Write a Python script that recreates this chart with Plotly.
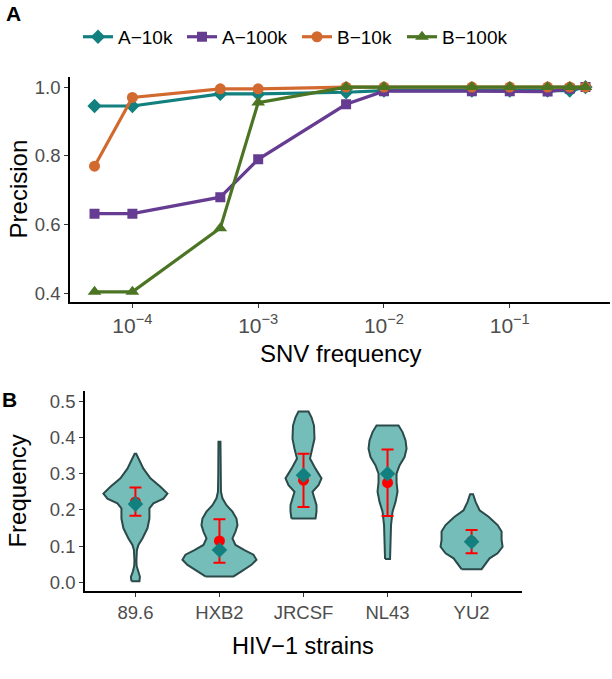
import plotly.graph_objects as go

# ---------------- Panel A data ----------------
snv_freq = [5e-5, 1e-4, 5e-4, 1e-3, 5e-3, 1e-2, 5e-2, 1e-1, 2e-1, 3e-1, 4e-1]
series_names = ["A\u221210k", "A\u2212100k", "B\u221210k", "B\u2212100k"]
prec_A10k = [0.945, 0.945, 0.980, 0.980, 0.985, 0.990, 0.990, 0.990, 0.990, 0.990, 1.000]
prec_A100k = [0.632, 0.632, 0.680, 0.790, 0.950, 0.988, 0.988, 0.988, 0.987, 0.995, 1.000]
prec_B10k = [0.770, 0.970, 0.995, 0.995, 1.000, 1.000, 1.000, 1.000, 1.000, 1.000, 1.000]
prec_B100k = [0.405, 0.405, 0.590, 0.955, 1.000, 1.000, 1.000, 1.000, 1.000, 1.000, 1.000]
x_tick_vals = [1e-4, 1e-3, 1e-2, 1e-1]
x_tick_text = ["10<sup>\u22124</sup>", "10<sup>\u22123</sup>", "10<sup>\u22122</sup>", "10<sup>\u22121</sup>"]
y_tick_vals_A = [0.4, 0.6, 0.8, 1.0]

# ---------------- Panel B data ----------------
strains = ["89.6", "HXB2", "JRCSF", "NL43", "YU2"]
# density profiles: (frequency level, relative density)
dens_levels = {
    "89.6": [0.003, 0.015, 0.030, 0.045, 0.060, 0.080, 0.089, 0.103, 0.121, 0.149, 0.176, 0.204,
             0.218, 0.231, 0.245, 0.264, 0.287, 0.314, 0.332, 0.355],
    "HXB2": [0.016, 0.030, 0.048, 0.062, 0.076, 0.089, 0.103, 0.121, 0.140, 0.158, 0.176, 0.195,
             0.213, 0.232, 0.250, 0.296, 0.342, 0.388],
    "JRCSF": [0.176, 0.195, 0.213, 0.231, 0.250, 0.268, 0.287, 0.314, 0.342, 0.369, 0.397, 0.433,
              0.456, 0.472],
    "NL43": [0.064, 0.112, 0.158, 0.195, 0.222, 0.250, 0.277, 0.300, 0.323, 0.346, 0.369, 0.392,
             0.415, 0.433],
    "YU2": [0.036, 0.052, 0.066, 0.080, 0.098, 0.117, 0.140, 0.158, 0.181, 0.199, 0.222, 0.243],
}
dens_values = {
    "89.6": [4.0, 4.5, 2.5, 1.2, 1.0, 1.2, 1.5, 3.0, 7.0, 12.0, 14.0, 14.0,
             18.0, 28.0, 32.0, 25.0, 15.0, 8.0, 5.0, 0.8],
    "HXB2": [14.0, 22.0, 32.0, 37.0, 34.0, 25.0, 16.0, 13.0, 16.0, 18.0, 17.0, 13.0,
             7.0, 3.0, 1.5, 1.2, 1.0, 1.0],
    "JRCSF": [12.0, 13.0, 13.0, 11.0, 9.0, 15.0, 18.0, 12.0, 6.5, 9.0, 11.0, 10.5, 8.0, 5.0],
    "NL43": [2.5, 3.0, 3.5, 5.0, 8.0, 10.0, 9.0, 9.0, 12.0, 17.0, 19.0, 18.0, 15.0, 11.0],
    "YU2": [10.0, 14.0, 18.0, 26.0, 31.0, 30.0, 30.0, 26.0, 17.0, 8.0, 4.0, 1.5],
}
means = [0.222, 0.114, 0.282, 0.275, 0.113]
sd_low = [0.184, 0.054, 0.208, 0.183, 0.080]
sd_high = [0.262, 0.174, 0.355, 0.367, 0.144]
medians = [0.216, 0.089, 0.296, 0.300, 0.112]
y_tick_vals_B = [0.0, 0.1, 0.2, 0.3, 0.4, 0.5]

# ---------------- styling ----------------
FONT = "Liberation Sans, Arial, Helvetica, sans-serif"
TICK_COL = "#4D4D4D"
colors = ["#12807F", "#653C92", "#D26A30", "#4B7423"]
symbols = ["diamond", "square", "circle", "triangle-up"]
msizes = [11, 10, 11, 12]
legend_marker_px = [98, 202, 317, 422]
density_scale = 1.0 / 84.0  # relative density -> category half-width

W, H = 612, 679
def px_x(a, b):
    return [a / W, b / W]
def px_y(top, bottom):
    return [1 - bottom / H, 1 - top / H]

fig = go.Figure()

all_prec = [prec_A10k, prec_A100k, prec_B10k, prec_B100k]
legend_ids = ["legend", "legend2", "legend3", "legend4"]
for name, vals, c, s, ms, lg in zip(series_names, all_prec, colors, symbols, msizes, legend_ids):
    fig.add_trace(go.Scatter(
        x=snv_freq, y=vals, name=name, mode="lines+markers",
        line=dict(color=c, width=3.2),
        marker=dict(symbol=s, size=ms, color=c),
        xaxis="x", yaxis="y", showlegend=True, legend=lg,
    ))

# violins
for i, st in enumerate(strains):
    lv = dens_levels[st]
    dv = dens_values[st]
    xs = [i - d * density_scale for d in dv] + [i + d * density_scale for d in reversed(dv)]
    ys = list(lv) + list(reversed(lv))
    xs.append(xs[0]); ys.append(ys[0])
    fig.add_trace(go.Scatter(
        x=xs, y=ys, mode="lines", fill="toself",
        fillcolor="#74BDB8", line=dict(color="#2C4A4A", width=2),
        xaxis="x2", yaxis="y2", showlegend=False, hoverinfo="skip",
    ))

fig.add_trace(go.Scatter(
    x=list(range(len(strains))), y=means, mode="markers",
    marker=dict(symbol="circle", size=11, color="#FF0000"),
    error_y=dict(type="data", symmetric=False,
                 array=[h - m for h, m in zip(sd_high, means)],
                 arrayminus=[m - l for m, l in zip(means, sd_low)],
                 color="#FF0000", thickness=2, width=6),
    xaxis="x2", yaxis="y2", showlegend=False,
))
fig.add_trace(go.Scatter(
    x=list(range(len(strains))), y=medians, mode="markers",
    marker=dict(symbol="diamond", size=12, color="#12807F"),
    xaxis="x2", yaxis="y2", showlegend=False,
))

axis_common = dict(showline=True, linecolor="black", linewidth=1.5, ticks="outside",
                   ticklen=4, tickwidth=1.2, tickcolor="#333333", showgrid=False,
                   zeroline=False)
tf = dict(family=FONT, size=18.5, color=TICK_COL)

legend_layout = {}
for lg, mx in zip(legend_ids, legend_marker_px):
    legend_layout[lg] = dict(orientation="h", x=(mx - 20) / W, y=1 - 37 / H,
                             xanchor="left", yanchor="middle",
                             font=dict(family=FONT, size=19, color="black"), itemwidth=30,
                             bgcolor="rgba(0,0,0,0)")

fig.update_layout(
    width=W, height=H, margin=dict(l=0, r=0, t=0, b=0),
    plot_bgcolor="white", paper_bgcolor="white",
    font=dict(family=FONT),
    xaxis=dict(domain=px_x(70, 610), type="log", range=[-4.496, -0.203],
               tickvals=x_tick_vals, ticktext=x_tick_text, anchor="y",
               tickfont=dict(family=FONT, size=21, color=TICK_COL), **axis_common),
    yaxis=dict(domain=px_y(77, 303), range=[0.375, 1.03], tickvals=y_tick_vals_A,
               tickformat=".1f", anchor="x", tickfont=tf, **axis_common),
    xaxis2=dict(domain=px_x(85, 522), range=[-0.6, 4.6], tickvals=list(range(len(strains))),
                ticktext=strains, anchor="y2", tickfont=tf, **axis_common),
    yaxis2=dict(domain=px_y(392, 593), range=[-0.025, 0.529], tickvals=y_tick_vals_B,
                tickformat=".1f", anchor="x2", tickfont=tf, **axis_common),
    **legend_layout,
)

def ann(text, x, y, size, bold=False, angle=0):
    fig.add_annotation(text=f"<b>{text}</b>" if bold else text, x=x / W, y=1 - y / H,
                       xref="paper", yref="paper", showarrow=False, textangle=angle,
                       font=dict(family=FONT, size=size, color="black"),
                       xanchor="center", yanchor="middle")

ann("A", 14, 14, 21, bold=True)
ann("B", 9, 401, 21, bold=True)
ann("Precision", 18, 190, 24, angle=-90)
ann("SNV frequency", 340, 355, 24)
ann("Frequency", 18, 493, 24, angle=-90)
ann("HIV\u22121 strains", 303, 648, 23.5)

# remove the default 8px page margin so the figure sits at the window's top-left corner
fig.write_html("out.html", config={"displayModeBar": False},
               post_script="document.body.style.margin='0px';")
